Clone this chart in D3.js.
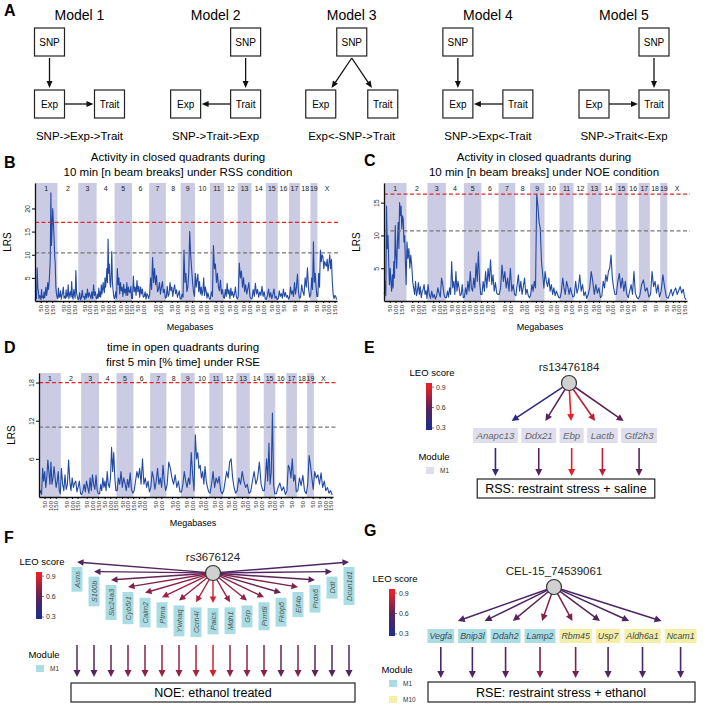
<!DOCTYPE html>
<html><head><meta charset="utf-8">
<script src="https://cdn.jsdelivr.net/npm/d3@7"></script>
<style>body{margin:0;background:#fff}svg{display:block;font-family:"Liberation Sans",Arial,sans-serif}</style>
</head><body><svg id="chart" width="709" height="707"></svg>
<script>
// ---------------- DATA ----------------
const chromosomes = ["1","2","3","4","5","6","7","8","9","10","11","12","13","14","15","16","17","18","19","X"];
const chromLengthsMb = [195.5,182.1,160.0,156.5,151.8,149.7,145.4,129.4,124.6,130.7,122.1,120.1,120.4,124.9,104.0,98.2,95.3,90.7,61.4,171.0];
const mbTicks = [50,100,150];

const lrsB = [
 [0.3,1.5,0.5,7.2,3,2,0.5,1.2,1,0.3,2.5,0.8,1,0.5,2,0.7,1.5,3,1.2,2,4,2.5,3.5,6,9,23.4,12,16,20,17,14,10,8,3,1.5,0.8],
 [0.5,2.8,0.8,1,2.2,0.4,1.2,1.8,3,0.6,1,0.6,2.4,0.8,1.2,3.5,0.5,1.5,2,0.8,4.2,1,0.4,2.5,1.5,0.6,6.6,1.8,1,0.3],
 [0.4,1.8,0.3,0.6,2.3,0.8,1,0.3,1.6,0.6,2.6,0.8,1.8,1.2,0.5,2,0.5,3.5,1.2,2,0.6],
 [0.5,1.5,0.6,2.8,1,2,0.8,3.5,1.5,2.5,4,2.5,1.8,5,3,4.5,7,4,13.4,6,8,4,3,6,10.7,4,2.5,1.2,0.5],
 [0.8,2,0.6,7,3.5,5,1.5,4,2.2,3,1,3.6,1.8,2.6,1.2,4,1.2,3,2,1.8,3.2,0.6],
 [0.5,5.4,2,3,1.2,4.4,2,3.2,0.8,3,1.5,2.6,0.8,1,2,0.4,1.6,1.2,0.5],
 [1.5,5,2.5,9.4,4,7,3.5,5.5,2,2.5,4,1.5,3,4.2,1.8,2.5,0.6],
 [0.8,3.2,1,1.5,4,2.2,3,1,2.5,3.5,1.6,2.4,0.8,1.5,2.2,0.4],
 [0.5,1.5,0.8,11,4,6,2,3,6,15,10,7,4,2,1],
 [6,3,4.5,5.8,2,4.2,1.5,3,1.2,2.2,5,1.2,3,2,0.6,1.8,1,0.4],
 [0.5,2,1,12,7,8,4,6,3,2.2,4.5,1.5,2.5,0.8],
 [0.6,2.5,1,3.8,1.5,2.4,0.5,2.8,1.2,2,0.8,1.6,3,1,0.4],
 [1,8.2,5,6.5,3,5,2,3.5,1.5,2.6,4,1,0.5],
 [0.5,2.5,1,3.8,1.5,2.5,0.8,2,1.2,3.2,1,2,0.4],
 [0.4,1.2,2.6,0.8,1.8,0.5,1.4,2.6,0.6,1,0.3],
 [0.5,2.2,1,1.6,0.6,2.6,1,1.8,0.8,1.2,0.4],
 [0.8,3,1.5,2.2,1,4,1.5,3,5.8,2,0.6],
 [0.8,3.5,2,1.2,5,3,7.2,2.5,0.8],
 [1.5,5,2.5,12.8,4,6,3,1],
 [1,6,3,11,8.5,10,9.5,7,8.5,8,7.5,9,6.5,8,10,7,9,4,1.5,0.5,1.2,1,0.3]
];
const lrsC = [
 [1,3,0.8,14.5,8,10,6,2.5,5,3,1.5,4,2,6,3.5,11.5,7,5,9,12,8,15,13,14.5,11,13,12.5,9,10,6,2.5],
 [9,6.5,8,5,7,5.5,3,2,1,3,0.8,1.5,2.8,1,2.2,0.5,1.4,1.8,2.5,1,1.6,0.4],
 [2.5,1,0.4,1.5,0.5,1,0.3,0.8,2,1.2,0.6,3.5,2.5,1,0.5],
 [0.5,1.5,0.6,2,1,6,2,3,1,4.5,1.5,3,2,0.8,1,2.5,0.5],
 [0.6,2,1,3,1.5,4.5,2,1.5,3.5,2,5.8,3,7.5,3,1],
 [1,3,1.5,4.5,2,5,3,6.3,2.5,4,1.5,2.8,1.2,1],
 [1,2,5.5,3,4.5,2,3.5,1.5,5,1.5,2.5,1],
 [0.8,2.5,4,1.5,3,1,2.2,3.5,1,1.8,0.8,0.5],
 [1,2.5,1.5,3,2,16.3,14.5,12,11,6,4,2],
 [4.5,3,2.2,3.5,1.5,2.5,1,2,0.8,1.5,1,0.5],
 [0.5,1.5,3.5,2,1,3,2.2,1,2,1.2,0.6],
 [0.8,3,1.2,2,4,1.5,2.5,0.8,1.4,0.4],
 [1,2,4.5,3,1,2.5,1.2,2,0.5],
 [0.8,3,2,4,3,4.5,5,7,3.5,2,1],
 [1,3,4.2,2,3.5,1.5,3,1],
 [0.5,1.5,2.5,1,4.5,1.2,0.6,0.3],
 [0.8,2.5,3.2,1.5,2,0.6],
 [1,4.5,2.2,3,1.2,2.5,0.6],
 [1.5,4,2,0.6],
 [0.4,1,1.8,0.8,1.5,2,1,1.6,2.2,1.2,1.8,0.5,0.2]
];
const lrsD = [
 [0.5,1,0.4,4.5,2.5,4,1.5,3,5.8,4,2,5.5,2,3,4.8,3,1.5,2.5,4,1,0.5],
 [4.5,2,1,3.5,1.2,2,5.8,2.5,1,3,1.5,2.2,2.5,0.8,1.6,2.5,0.5],
 [0.4,1,2,0.8,2.5,1.5,0.6,3,1,3.5,2,1.2,3.4,1,0.5],
 [0.5,2,1,3,1.5,2.5,1,4,2,1.5,3,7.8,4,7,3,1],
 [1,3,2,4,1.5,3,2.2,1,2.8,1.5,3.8,1.2,0.6],
 [1,2.5,4,3,4.5,2,6,2,3,1.5,2.5,0.8],
 [1.5,4,3,1.2,2.5,4.5,2,3,1.5,5,2.5,1],
 [2,5.5,4.5,3,2,3.5,1.5,2.5,0.8],
 [0.8,2,4,2.5,1.5,3,2,7,3.5,1],
 [9.8,6,7,4.5,5,3,4,2,4.8,2.5,1.5,0.8],
 [0.6,2,4,1.5,3,2.2,3.2,1,0.5],
 [1,2.5,4,3,5.5,6,3,1.5,0.6],
 [1,3,2,4,2.5,1.5,2,0.6],
 [0.8,2.5,4,2,3,5.5,2,1],
 [1,3,6,2.5,8.5,2,4,13.2,2,0.5],
 [0.5,1.5,2.2,1,1.6,0.4],
 [1,5,4.5,3,6,2.5,3.5,0.8],
 [1,3,1.8,3.4,1,0.5],
 [2,6.5,5,3,1.2],
 [4,3,3.5,2,3.8,1.5,2.5,1,1.5,0.6,1,0.3]
];
const thresholdsB = [17.0, 10.4];
const thresholdsC = [16.3, 10.7];
const thresholdsD = [18.0, 11.0];
const yTicksB = [5,10,15,20];
const yTicksC = [5,10,15];
const yTicksD = [6,12,18];
const titleB = ["Activity in closed quadrants during","10 min [n beam breaks] under RSS condition"];
const titleC = ["Activity in closed quadrants during","10 min [n beam breaks] under NOE condition"];
const titleD = ["time in open quadrants during","first 5 min [% time] under RSE"];

const modelNames = ["Model 1","Model 2","Model 3","Model 4","Model 5"];
const modelCaptions = ["SNP->Exp->Trait","SNP->Trait->Exp","Exp<-SNP->Trait","SNP->Exp<-Trait","SNP->Trait<-Exp"];
const modelSnpColumn = ["left","right","middle","left","right"];
const modelEdges = [
 [["SNP","Exp"],["Exp","Trait"]],
 [["SNP","Trait"],["Trait","Exp"]],
 [["SNP","Exp"],["SNP","Trait"]],
 [["SNP","Exp"],["Trait","Exp"]],
 [["SNP","Trait"],["Exp","Trait"]]
];

const leoTicks = [0.3,0.6,0.9];

const snpE = "rs13476184";
const genesE = ["Anapc13","Ddx21","Ebp","Lactb","Gtf2h3"];
const leoE = [0.40,0.58,0.90,0.80,0.60];
const moduleE = ["M1","M1","M1","M1","M1"];
const traitE = "RSS: restraint stress + saline";

const snpF = "rs3676124";
const genesF = ["Asns","S100b","Slc24a3","Cyb5r1","Calm2","Ptma","Ywhaq","Ccrn4l","Paics","Mdh1","Grp","Prmt8","Fkbp5","Eif4b","Prdx6","Ddt","Dcun1d1"];
const leoF = [0.56,0.58,0.62,0.68,0.70,0.74,0.72,0.78,0.86,0.72,0.72,0.70,0.62,0.68,0.60,0.55,0.53];
const traitF = "NOE: ethanol treated";

const snpG = "CEL-15_74539061";
const genesG = ["Vegfa","Bnip3l","Ddah2","Lamp2","Rbm45","Usp7","Aldh6a1","Ncam1"];
const leoG = [0.52,0.53,0.60,0.68,0.66,0.56,0.52,0.52];
const moduleG = ["M1","M1","M1","M1","M10","M10","M10","M10"];
const traitG = "RSE: restraint stress + ethanol";

// ---------------- STYLE ----------------
const moduleColor = {M1E:"#dedeee", M1:"#a9dde3", M10:"#f3efa6"};
const leoColor = d3.scaleLinear().domain([0.3,0.6,0.9]).range(["#1c2d8e","#5d2357","#e5202a"]).clamp(true);
const lineBlue = "#2149a6";
const bandFill = "#cbcbe3";

const svg = d3.select("#chart");
svg.append("rect").attr("width",709).attr("height",707).attr("fill","#fff");

function arrow(g, x1, y1, x2, y2, color, w, hl, hw) {
  const dx = x2-x1, dy = y2-y1, L = Math.hypot(dx,dy), ux = dx/L, uy = dy/L;
  const bx = x2-ux*hl, by = y2-uy*hl;
  g.append("line").attr("x1",x1).attr("y1",y1).attr("x2",bx+ux).attr("y2",by+uy)
    .attr("stroke",color).attr("stroke-width",w);
  g.append("path").attr("d",`M${x2},${y2}L${bx-uy*hw/2},${by+ux*hw/2}L${bx+uy*hw/2},${by-ux*hw/2}Z`).attr("fill",color);
}
function letter(x,y,t){ svg.append("text").attr("x",x).attr("y",y).attr("font-size",16).attr("font-weight","bold").text(t); }

// ---------------- PANEL A ----------------
letter(4,16,"A");
(function(){
  const g = svg.append("g");
  const mx = d3.scalePoint().domain(modelNames).range([79.5,624]);
  const bw = 30, bh = 28;
  const rowY = {top:28, bottom:90};
  modelNames.forEach((m,i)=>{
    const c = mx(m);
    const colX = {left:c-30, right:c+30, middle:c};
    const pos = {};
    pos.SNP = {x:colX[modelSnpColumn[i]], y:rowY.top};
    if (modelSnpColumn[i]==="middle") { pos.Exp = {x:c-31,y:rowY.bottom}; pos.Trait={x:c+31,y:rowY.bottom}; }
    else { pos.Exp = {x:colX.left,y:rowY.bottom}; pos.Trait={x:colX.right,y:rowY.bottom}; }
    g.append("text").attr("x",c).attr("y",20).attr("text-anchor","middle").attr("font-size",14).text(m);
    Object.keys(pos).forEach(k=>{
      g.append("rect").attr("x",pos[k].x-bw/2).attr("y",pos[k].y).attr("width",bw).attr("height",bh)
        .attr("fill","#fff").attr("stroke","#222").attr("stroke-width",1.2);
      g.append("text").attr("x",pos[k].x).attr("y",pos[k].y+bh/2+3.5).attr("text-anchor","middle").attr("font-size",10).text(k);
    });
    modelEdges[i].forEach(([s,t])=>{
      const S = pos[s], T = pos[t];
      if (S.y===T.y) {
        const dir = T.x > S.x ? 1 : -1;
        arrow(g, S.x+dir*bw/2, S.y+bh/2, T.x-dir*bw/2-dir*1, T.y+bh/2, "#111", 1.3, 7, 6);
      } else {
        const sx = S.x, sy = S.y+bh+2;
        const tcx = T.x, tcy = T.y+bh/2;
        const ty = T.y-2;
        const tx = sx + (tcx-sx)*(ty-sy)/(tcy-sy);
        arrow(g, sx, sy, tx, ty, "#111", 1.3, 7, 6);
      }
    });
    g.append("text").attr("x",c).attr("y",140).attr("text-anchor","middle").attr("font-size",11.5).text(modelCaptions[i]);
  });
})();

// ---------------- MANHATTAN ----------------
function manhattan(cfg){
  const g = svg.append("g");
  const starts = [0]; chromLengthsMb.forEach((l,i)=>starts.push(starts[i]+l));
  const total = starts[starts.length-1];
  const x = d3.scaleLinear().domain([0,total]).range([cfg.x0,cfg.x1]);
  const y = d3.scaleLinear().domain([0,cfg.yMax]).range([cfg.bot,cfg.top]);
  chromosomes.forEach((c,i)=>{
    if (i%2===0 && c!=="X")
      g.append("rect").attr("x",x(starts[i])).attr("y",cfg.top).attr("width",x(starts[i+1])-x(starts[i])).attr("height",cfg.bot-cfg.top).attr("fill",bandFill);
    g.append("text").attr("x",x(starts[i]+chromLengthsMb[i]/2)).attr("y",cfg.top+7.5).attr("text-anchor","middle")
      .attr("font-size",7).attr("fill","#222").text(c);
  });
  const pts = [];
  cfg.values.forEach((arr,i)=>{
    arr.forEach((v,j)=>pts.push([starts[i]+chromLengthsMb[i]*(j+0.5)/arr.length, v]));
  });
  g.append("path").datum(pts).attr("d",d3.line().x(d=>x(d[0])).y(d=>y(d[1])))
    .attr("fill","none").attr("stroke",lineBlue).attr("stroke-width",1.1).attr("stroke-linejoin","round");
  g.append("line").attr("x1",cfg.x0).attr("x2",cfg.x1+3).attr("y1",y(cfg.thr[0])).attr("y2",y(cfg.thr[0]))
    .attr("stroke","#e0262d").attr("stroke-width",1.3).attr("stroke-dasharray","4,2.5");
  g.append("line").attr("x1",cfg.x0).attr("x2",cfg.x1+3).attr("y1",y(cfg.thr[1])).attr("y2",y(cfg.thr[1]))
    .attr("stroke","#777").attr("stroke-width",1.2).attr("stroke-dasharray","4,2.5");
  const ya = g.append("g").attr("transform",`translate(${cfg.x0},0)`)
    .call(d3.axisLeft(y).tickValues(cfg.yTicks).tickSize(3).tickSizeOuter(0));
  ya.select(".domain").attr("stroke","#111").attr("stroke-width",1.3);
  ya.selectAll("text").attr("transform","rotate(-90)").attr("x",0).attr("y",-5).attr("dy",0)
    .attr("text-anchor","middle").attr("font-size",7).attr("font-family","Liberation Sans, Arial, sans-serif").attr("fill","#333");
  const tv = [], tl = [];
  chromLengthsMb.forEach((l,i)=>mbTicks.forEach(t=>{ if (t<l){ tv.push(starts[i]+t); tl.push(String(t)); } }));
  const xa = g.append("g").attr("transform",`translate(0,${cfg.bot})`)
    .call(d3.axisBottom(x).tickValues(tv).tickFormat((d,i)=>tl[i]).tickSize(2).tickSizeOuter(0));
  xa.select(".domain").attr("stroke","#111").attr("stroke-width",1.3);
  xa.selectAll("text").attr("transform","rotate(-90)").attr("x",-4).attr("y",0).attr("dy","0.35em")
    .attr("text-anchor","end").attr("font-size",6).attr("font-family","Liberation Sans, Arial, sans-serif").attr("fill","#333");
  g.append("text").attr("transform",`translate(${cfg.x0-24},${(cfg.top+cfg.bot)/2}) rotate(-90)`)
    .attr("text-anchor","middle").attr("font-size",10).text("LRS");
  g.append("text").attr("x",cfg.xlabX).attr("y",cfg.bot+29).attr("text-anchor","middle").attr("font-size",9).text("Megabases");
  cfg.title.forEach((t,i)=>g.append("text").attr("x",cfg.titleX).attr("y",cfg.top-22+i*15).attr("text-anchor","middle").attr("font-size",11.5).text(t));
}
letter(4,168,"B");
manhattan({x0:35,x1:337,top:183,bot:301,yMax:25.5,values:lrsB,thr:thresholdsB,yTicks:yTicksB,title:titleB,titleX:178,xlabX:190});
letter(364,166,"C");
manhattan({x0:384,x1:687,top:183,bot:301,yMax:18,values:lrsC,thr:thresholdsC,yTicks:yTicksC,title:titleC,titleX:544,xlabX:540});
letter(4,353,"D");
manhattan({x0:39,x1:333,top:373,bot:497,yMax:19.5,values:lrsD,thr:thresholdsD,yTicks:yTicksD,title:titleD,titleX:183,xlabX:193});

// ---------------- LEGENDS ----------------
let gradId = 0;
function leoLegend(bx, by, moduleY, modules){
  const g = svg.append("g");
  const bh = 47, bwid = 6;
  const s = d3.scaleLinear().domain([0.27,0.96]).range([by+bh,by]);
  const id = "leo"+(gradId++);
  const grad = svg.append("defs").append("linearGradient").attr("id",id).attr("x1",0).attr("y1",1).attr("x2",0).attr("y2",0);
  d3.range(0,1.0001,0.1).forEach(t=>{
    const v = 0.27 + t*(0.96-0.27);
    grad.append("stop").attr("offset",t).attr("stop-color",leoColor(v));
  });
  g.append("text").attr("x",bx+6).attr("y",by-7).attr("text-anchor","middle").attr("font-size",9.5).text("LEO score");
  g.append("rect").attr("x",bx).attr("y",by).attr("width",bwid).attr("height",bh).attr("fill",`url(#${id})`);
  leoTicks.forEach(t=>{
    g.append("line").attr("x1",bx+bwid).attr("x2",bx+bwid+2).attr("y1",s(t)).attr("y2",s(t)).attr("stroke","#444").attr("stroke-width",0.7);
    g.append("text").attr("x",bx+bwid+4).attr("y",s(t)+2.5).attr("font-size",7).attr("fill","#333").text(t.toFixed(1));
  });
  g.append("text").attr("x",bx+8).attr("y",moduleY+3.5).attr("text-anchor","middle").attr("font-size",9.5).text("Module");
  modules.forEach((m,i)=>{
    g.append("rect").attr("x",bx).attr("y",moduleY+11+i*16).attr("width",8).attr("height",7).attr("fill",m.color);
    g.append("text").attr("x",bx+14).attr("y",moduleY+17+i*16).attr("font-size",6.5).attr("fill","#333").text(m.name);
  });
}

function snpNode(g, cx, cy, label){
  g.append("text").attr("x",cx).attr("y",cy-12).attr("text-anchor","middle").attr("font-size",11.5).attr("fill","#222").text(label);
  g.append("circle").attr("cx",cx).attr("cy",cy).attr("r",7.5).attr("fill","#d0d0d0").attr("stroke","#333").attr("stroke-width",1.2);
}
function traitBox(g, cx, y, h, text, minW){
  const t = g.append("text").attr("x",cx).attr("y",y+h/2+4.3).attr("text-anchor","middle").attr("font-size",12.5).text(text);
  const w = Math.max(minW||0, t.node().getComputedTextLength()+16);
  g.insert("rect","text").attr("x",cx-w/2).attr("y",y).attr("width",w).attr("height",h).attr("fill","#fff").attr("stroke","#222").attr("stroke-width",1.2);
}

function geneRow(g, genes, modules, colorKey, cx, y, h, fs, gap, pad, color){
  const items = genes.map((name,i)=>{
    const t = g.append("text").attr("font-size",fs).attr("font-style","italic").attr("fill",color).text(name);
    const w = t.node().getComputedTextLength()+2*pad;
    return {name, t, w, m:modules[i]};
  });
  const total = d3.sum(items,d=>d.w)+gap*(items.length-1);
  let x0 = cx-total/2;
  items.forEach(it=>{
    it.x = x0; it.c = x0+it.w/2; x0 += it.w+gap;
    g.insert("rect","text").attr("x",it.x).attr("y",y).attr("width",it.w).attr("height",h).attr("fill",moduleColor[colorKey(it.m)]);
    it.t.attr("x",it.c).attr("y",y+h/2+fs*0.36).attr("text-anchor","middle");
  });
  return items;
}

// ---------------- PANEL E ----------------
letter(364,353,"E");
leoLegend(426,383,456,[{name:"M1",color:moduleColor.M1E}]);
(function(){
  const g = svg.append("g");
  const cx = 569, cy = 383;
  const items = geneRow(g, genesE, moduleE, m=>m+"E", 565, 428, 15, 9.6, 3.5, 3.5, "#666");
  items.forEach((it,i)=>{
    const col = leoColor(leoE[i]);
    const hx = it.c + 0.22*(cx-it.c), hy = 421;
    const L = Math.hypot(hx-cx,hy-cy);
    arrow(g, cx+(hx-cx)/L*7.5, cy+(hy-cy)/L*7.5, hx, hy, col, 1.6, 7, 7);
    arrow(g, it.c, 448, it.c, 476, col, 1.6, 7, 7);
  });
  snpNode(g, cx, cy, snpE);
  traitBox(g, 566, 479, 19, traitE, 173);
})();

// ---------------- PANEL F ----------------
letter(4,543,"F");
leoLegend(36,572,654,[{name:"M1",color:moduleColor.M1}]);
(function(){
  const g = svg.append("g");
  const cx = 213, cy = 573;
  const xs = d3.scalePoint().domain(genesF).range([77,349]);
  const n = genesF.length, mid = (n-1)/2;
  const arcY = d3.scaleLinear().domain([0,1]).range([562,603]);
  genesF.forEach((name,i)=>{
    const col = leoColor(leoF[i]);
    const hx = xs(name);
    const u = (i-mid)/mid;
    const hy = arcY(1-u*u);
    const L = Math.hypot(hx-cx,hy-cy);
    arrow(g, cx+(hx-cx)/L*7.5, cy+(hy-cy)/L*7.5, hx, hy, col, 1.4, 6.5, 6.5);
    const t = g.append("text").attr("font-size",7.5).attr("font-style","italic").attr("fill","#555").text(name);
    const tw = t.node().getComputedTextLength();
    const bh = Math.max(22, tw+8), top = hy+5;
    g.insert("rect","text").attr("x",hx-5.5).attr("y",top).attr("width",11).attr("height",bh).attr("fill",moduleColor.M1);
    t.attr("transform",`translate(${hx+2.7},${top+bh/2}) rotate(-90)`).attr("text-anchor","middle");
    arrow(g, hx, 645, hx, 677, col, 1.5, 7, 7);
  });
  snpNode(g, cx, cy, snpF);
  g.append("text").attr("x",cx).attr("y",696.5).attr("text-anchor","middle").attr("font-size",12.5).text(traitF);
  g.insert("rect","text").attr("x",xs.range()[0]-6).attr("y",683).attr("width",xs.range()[1]-xs.range()[0]+12).attr("height",19)
    .attr("fill","#fff").attr("stroke","#222").attr("stroke-width",1.2);
})();

// ---------------- PANEL G ----------------
letter(364,536,"G");
leoLegend(389,589,669,[{name:"M1",color:moduleColor.M1},{name:"M10",color:moduleColor.M10}]);
(function(){
  const g = svg.append("g");
  const cx = 554, cy = 587;
  const items = geneRow(g, genesG, moduleG, m=>m, 562, 629, 14, 8.8, 4, 2, "#3d4852");
  items.forEach((it,i)=>{
    const col = leoColor(leoG[i]);
    const hx = it.c + 0.15*(cx-it.c), hy = 621;
    const L = Math.hypot(hx-cx,hy-cy);
    arrow(g, cx+(hx-cx)/L*7.5, cy+(hy-cy)/L*7.5, hx, hy, col, 1.5, 7, 7);
    arrow(g, it.c, 647, it.c, 678, col, 1.6, 7, 7);
  });
  snpNode(g, cx, cy, snpG);
  g.append("text").attr("x",561).attr("y",696.5).attr("text-anchor","middle").attr("font-size",12.5).text(traitG);
  g.insert("rect","text").attr("x",428).attr("y",682).attr("width",267).attr("height",20)
    .attr("fill","#fff").attr("stroke","#222").attr("stroke-width",1.2);
})();
</script></body></html>
